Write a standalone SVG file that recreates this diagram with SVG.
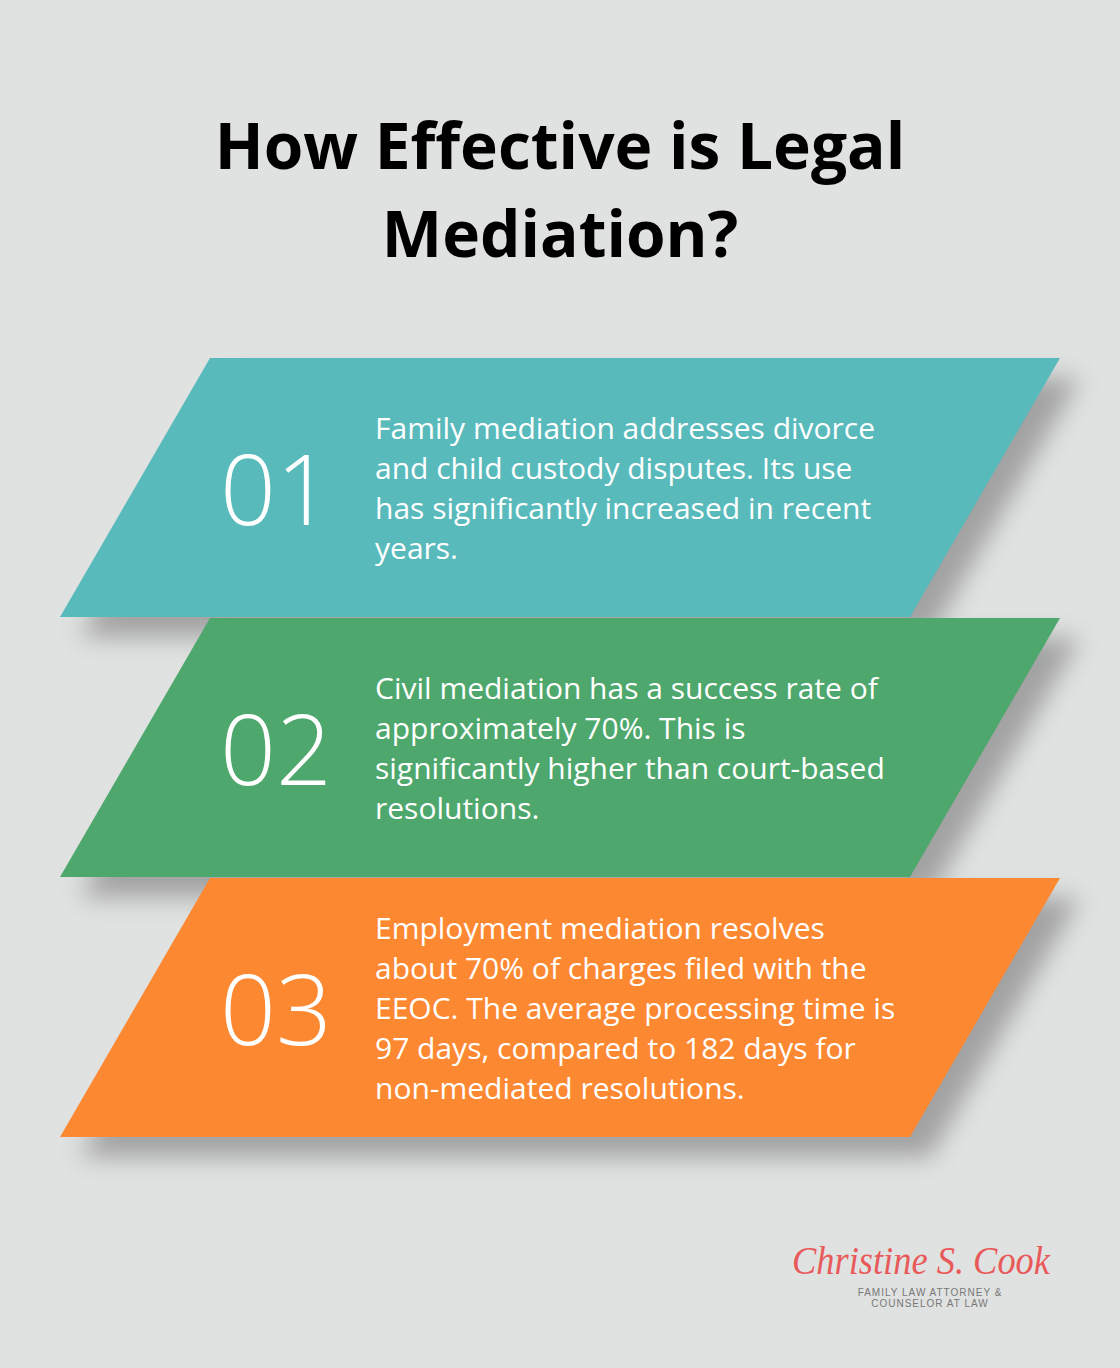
<svg xmlns="http://www.w3.org/2000/svg" width="1120" height="1368" viewBox="0 0 1120 1368">
<defs>
<style>
.t{font-family:"Open Sans","Liberation Sans",sans-serif;font-size:30px;fill:#fff}
.n{font-family:"Open Sans","Liberation Sans",sans-serif;font-size:98px;font-weight:300;fill:#fff}
.h{font-family:"Open Sans","Liberation Sans",sans-serif;font-size:64px;font-weight:700;fill:#000;text-anchor:middle}
</style>
<filter id="sh" x="-20%" y="-30%" width="140%" height="170%"><feGaussianBlur stdDeviation="12"/></filter>
</defs>
<rect width="1120" height="1368" fill="#e0e2e1"/>
<text class="h" x="560" y="169">How Effective is Legal</text>
<text class="h" x="560" y="257">Mediation?</text>
<g id="shadows" opacity="0.45">
<polygon points="230,378 1080,378 930,637 80,637" fill="#555" filter="url(#sh)"/>
<polygon points="230,638 1080,638 930,897 80,897" fill="#555" filter="url(#sh)"/>
<polygon points="230,898 1080,898 930,1157 80,1157" fill="#555" filter="url(#sh)"/>
</g>
<g id="n1">
<polygon points="210,358 1060,358 910,617 60,617" fill="#59babc"/>
<text class="n" x="220" y="525">01</text>
<text class="t"><tspan x="375" y="439">Family mediation addresses divorce</tspan><tspan x="375" y="479">and child custody disputes. Its use</tspan><tspan x="375" y="519">has significantly increased in recent</tspan><tspan x="375" y="559">years.</tspan></text>
</g>
<g id="n2">
<polygon points="210,618 1060,618 910,877 60,877" fill="#4ea76c"/>
<text class="n" x="220" y="785">02</text>
<text class="t"><tspan x="375" y="699">Civil mediation has a success rate of</tspan><tspan x="375" y="739">approximately 70%. This is</tspan><tspan x="375" y="779">significantly higher than court-based</tspan><tspan x="375" y="819">resolutions.</tspan></text>
</g>
<g id="n3">
<polygon points="210,878 1060,878 910,1137 60,1137" fill="#fd8832"/>
<text class="n" x="220" y="1045">03</text>
<text class="t"><tspan x="375" y="939">Employment mediation resolves</tspan><tspan x="375" y="979">about 70% of charges filed with the</tspan><tspan x="375" y="1019">EEOC. The average processing time is</tspan><tspan x="375" y="1059">97 days, compared to 182 days for</tspan><tspan x="375" y="1099">non-mediated resolutions.</tspan></text>
</g>
<g id="connectors"/>
<g id="logo">
<text x="792" y="1274" textLength="258" lengthAdjust="spacingAndGlyphs" font-family="'Liberation Serif',serif" font-style="italic" font-size="40" fill="#e85a5a">Christine S. Cook</text>
<text x="930" y="1296" text-anchor="middle" font-family="'Liberation Sans',sans-serif" font-size="10" fill="#777" letter-spacing="1">FAMILY LAW ATTORNEY &amp;</text>
<text x="930" y="1307" text-anchor="middle" font-family="'Liberation Sans',sans-serif" font-size="10" fill="#777" letter-spacing="1">COUNSELOR AT LAW</text>
</g>
</svg>
